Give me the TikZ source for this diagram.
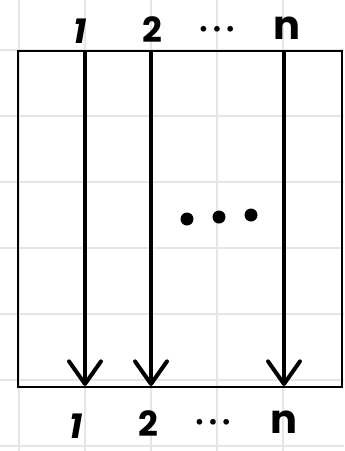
\documentclass[tikz,border=0pt]{standalone}
\usepackage{fontspec}
\setmainfont{Poppins}
\usetikzlibrary{arrows.meta}
\begin{document}
\begin{tikzpicture}[x=0.75pt,y=-0.75pt,
  gridline/.style={draw=black!10, line width=0.9pt},
  frame/.style={draw=black, line width=1.6pt},
  flow/.style={draw=black, line width=3pt, line cap=round,
    -{Straight Barb[length=17pt,width=24pt,line width=3pt,round]}},
  lbl/.style={font=\fontsize{26}{26}\selectfont\bfseries, inner sep=0pt},
  nlbl/.style={font=\fontsize{30}{30}\selectfont\bfseries, inner sep=0pt},
  dotsl/.style={font=\fontsize{14}{14}\selectfont\bfseries, inner sep=0pt},
  bigdot/.style={fill=black}]
\useasboundingbox (0,0) rectangle (344,451);
\fill[white] (0,0) rectangle (344,451);
% grid
\foreach \gx in {19,85,151,217,283} \draw[gridline] (\gx,0) -- (\gx,451);
\foreach \gy in {50,116,182,248,314,380,446} \draw[gridline] (0,\gy) -- (344,\gy);
% frame
\draw[frame] (18,51) rectangle (342,387);
% top labels
\node[lbl] (t1) at (80,31) {\itshape 1};
\node[lbl] (t2) at (152,30) {2};
\node[dotsl] (td) at (217,31) {•\hspace{3pt}•\hspace{3pt}•};
\node[nlbl] (tn) at (287,28) {n};
% bottom labels
\node[lbl] (b1) at (76,426) {\itshape 1};
\node[lbl] (b2) at (148,424) {2};
\node[dotsl] (bd) at (213,424) {•\hspace{3pt}•\hspace{3pt}•};
\node[nlbl] (bn) at (284,422) {n};
% arrow anchors
\coordinate (s1) at (85,52);
\coordinate (e1) at (85,386);
\coordinate (s2) at (151,52);
\coordinate (e2) at (151,386);
\coordinate (sn) at (284,52);
\coordinate (en) at (284,386);
\draw[flow] (s1) -- (e1);
\draw[flow] (s2) -- (e2);
\draw[flow] (sn) -- (en);
% middle dots
\fill[bigdot] (187,219) circle (6.5);
\fill[bigdot] (219,217) circle (6.5);
\fill[bigdot] (251,215) circle (6.5);
\end{tikzpicture}
\end{document}
